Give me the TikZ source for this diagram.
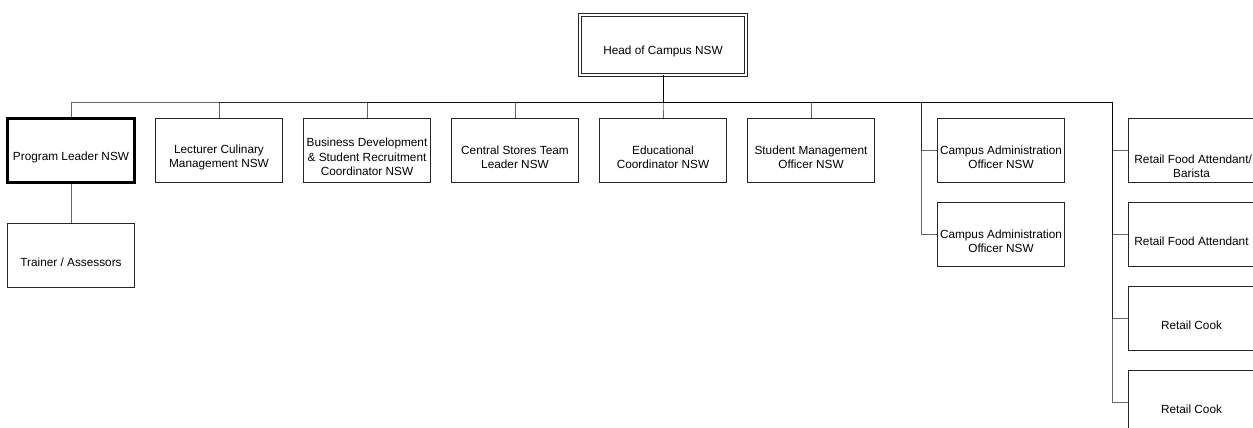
\documentclass[tikz,border=0pt]{standalone}
\usepackage{fontspec}
\setmainfont{Liberation Sans}
\usetikzlibrary{positioning}
\newcommand{\dn}[1][22pt]{\rule{0pt}{#1}}

\begin{document}
\begin{tikzpicture}[x=1pt, y=-1pt,
    role/.style={rectangle, draw=black!85, line width=0.8pt, minimum width=127pt, minimum height=64pt, inner sep=2pt, outer sep=0pt, align=center, font=\fontsize{11.8}{14.5}\selectfont},
    leadbox/.style={role, draw=black, line width=2.6pt},
    topbox/.style={role, double, double distance=2.2pt, minimum width=166pt, minimum height=60pt},
    link/.style={draw=black, line width=1pt, draw opacity=0.6},
  ]
    \useasboundingbox (0,0) rectangle (1253,428);

    \node[topbox] (head) at (663,45) {\dn Head of Campus NSW};
    \node[leadbox] (plead) at (71,150.5) {\dn Program Leader NSW};
    \node[role, below=41pt of plead] (trainer) {\dn Trainer / Assessors};
    \node[role, right=21pt of plead] (lect) {\dn Lecturer Culinary\\Management NSW};
    \node[role, right=21pt of lect] (busdev) {\dn Business Development\\\& Student Recruitment\\Coordinator NSW};
    \node[role, right=21pt of busdev] (stores) {\dn Central Stores Team\\Leader NSW};
    \node[role, right=21pt of stores] (educ) {\dn Educational\\Coordinator NSW};
    \node[role, right=21pt of educ] (studm) {\dn Student Management\\Officer NSW};
    \node[role, right=63pt of studm] (admin1) {\dn Campus Administration\\Officer NSW};
    \node[role, below=20pt of admin1] (admin2) {\dn Campus Administration\\Officer NSW};
    \node[role, right=63.5pt of admin1] (retail1) {\dn[40pt] Retail Food Attendant/\\Barista};
    \node[role, below=20pt of retail1] (retail2) {\dn Retail Food Attendant};
    \node[role, below=20pt of retail2] (retail3) {\dn Retail Cook};
    \node[role, below=20pt of retail3] (retail4) {\dn Retail Cook};

    % bus and spines
    \coordinate[below=27.5pt of head.south] (bus);
    \coordinate (aspine) at ([xshift=-16pt]admin1.west |- bus);
    \coordinate (rspine) at ([xshift=-16pt]retail1.west |- bus);

    \foreach \r in {plead,lect,busdev,stores,educ,studm}
      \draw[link] (head.south) |- (bus) -| (\r.north);
    \foreach \r in {admin1,admin2}
      \draw[link] (head.south) |- (aspine) |- (\r.west);
    \foreach \r in {retail1,retail2,retail3,retail4}
      \draw[link] (head.south) |- (rspine) |- (\r.west);
    \draw[link] (plead) -- (trainer);
  \end{tikzpicture}
\end{document}
